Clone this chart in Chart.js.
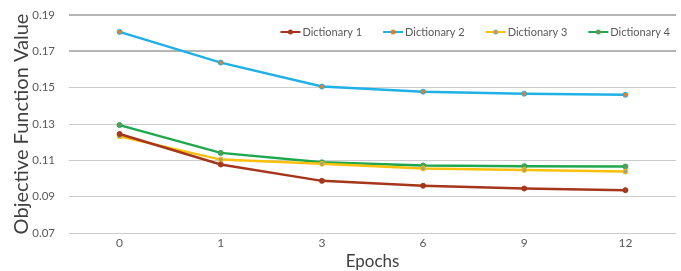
<!DOCTYPE html>
<html>
<head>
<meta charset="utf-8">
<script src="https://cdn.jsdelivr.net/npm/chart.js@4"></script>
<style>
  html, body { margin: 0; padding: 0; background: #ffffff; overflow: hidden; }
  canvas { display: block; }
</style>
</head>
<body>
<canvas id="grafico" width="681" height="271"></canvas>
<script>
const epochs = ["0", "1", "3", "6", "9", "12"];
const yTicks = [0.07, 0.09, 0.11, 0.13, 0.15, 0.17, 0.19];
const dictNames = ["Dictionary 1", "Dictionary 2", "Dictionary 3", "Dictionary 4"];
const dict1 = [0.1245, 0.1077, 0.0987, 0.0960, 0.0945, 0.0936];
const dict2 = [0.1807, 0.1638, 0.1506, 0.1478, 0.1467, 0.1461];
const dict3 = [0.1232, 0.1104, 0.1081, 0.1055, 0.1047, 0.1038];
const dict4 = [0.1294, 0.1141, 0.1089, 0.1072, 0.1068, 0.1066];

const lineColors = ["#a5361b", "#1fb0e6", "#fcbf0a", "#1da74f"];
const markerColors = ["#a33a1c", "#e0802e", "#a8a47a", "#5e9b5a"];
const textColor = "#595959";
const fontFam = "Lato, 'DejaVu Sans', sans-serif";

const series = [dict1, dict2, dict3, dict4];

// Leyenda dentro del area del grafico, arriba a la derecha (linea con punto)
const leyendaInterna = {
  id: "leyendaInterna",
  afterDraw: function (chart) {
    const ctx = chart.ctx;
    const area = chart.chartArea;
    ctx.save();
    ctx.font = "11px " + fontFam;
    ctx.textBaseline = "middle";
    const y = area.top + 17;
    const anchos = dictNames.map((n) => ctx.measureText(n).width);
    const icono = 20, hueco = 2, sep = 21;
    let total = anchos.reduce((s, w) => s + icono + hueco + w, 0) + sep * (dictNames.length - 1);
    let x = area.right - 6 - total;
    chart.data.datasets.forEach((ds, i) => {
      ctx.strokeStyle = ds.borderColor;
      ctx.lineWidth = 2;
      ctx.beginPath(); ctx.moveTo(x, y); ctx.lineTo(x + icono, y); ctx.stroke();
      ctx.fillStyle = ds.pointBackgroundColor;
      ctx.beginPath(); ctx.arc(x + icono / 2, y, 2.5, 0, Math.PI * 2); ctx.fill();
      ctx.fillStyle = textColor;
      ctx.fillText(ds.label, x + icono + hueco, y);
      x += icono + hueco + anchos[i] + sep;
    });
    ctx.restore();
  },
};

new Chart(document.getElementById("grafico"), {
  type: "line",
  data: {
    labels: epochs,
    datasets: series.map((d, i) => ({
      label: dictNames[i],
      data: d,
      borderColor: lineColors[i],
      backgroundColor: markerColors[i],
      borderWidth: 2.5,
      pointRadius: 2.5,
      pointBorderWidth: 1,
      pointBorderColor: lineColors[i],
      pointBackgroundColor: markerColors[i],
      tension: 0,
    })),
  },
  options: {
    responsive: false,
    animation: false,
    layout: { padding: { top: 0, right: 1, bottom: 0, left: 12 } },
    plugins: {
      legend: { display: false },
      tooltip: { enabled: false },
    },
    scales: {
      x: {
        offset: true,
        grid: { display: false, drawTicks: false },
        border: { display: false },
        ticks: { color: textColor, font: { family: fontFam, size: 12, lineHeight: 1 }, padding: 4 },
        title: {
          display: true,
          text: "Epochs",
          color: "#404040",
          font: { family: fontFam, size: 17, lineHeight: 1 },
          padding: { top: 0, bottom: 1 },
        },
      },
      y: {
        min: 0.07,
        max: 0.19,
        afterBuildTicks: function (axis) {
          axis.ticks = yTicks.map((v) => ({ value: v }));
        },
        afterFit: function (axis) {
          axis.width = 57;
          axis.paddingTop = 15;
          axis.paddingBottom = 0;
        },
        grid: {
          drawTicks: false,
          color: (ctx) => (ctx.tick && ctx.tick.value > 0.16 ? "#b5b5b5" : "#cccccc"),
          lineWidth: (ctx) => (ctx.tick && ctx.tick.value > 0.16 ? 2 : 1),
        },
        border: { display: false },
        ticks: {
          color: textColor,
          font: { family: fontFam, size: 11.5 },
          padding: 14,
          callback: (v) => Number(v).toFixed(2),
        },
        title: {
          display: true,
          text: "Objective Function Value",
          color: "#404040",
          font: { family: fontFam, size: 20, lineHeight: 1 },
          padding: { top: 0, bottom: 5 },
        },
      },
    },
  },
  plugins: [leyendaInterna],
});
</script>
</body>
</html>
